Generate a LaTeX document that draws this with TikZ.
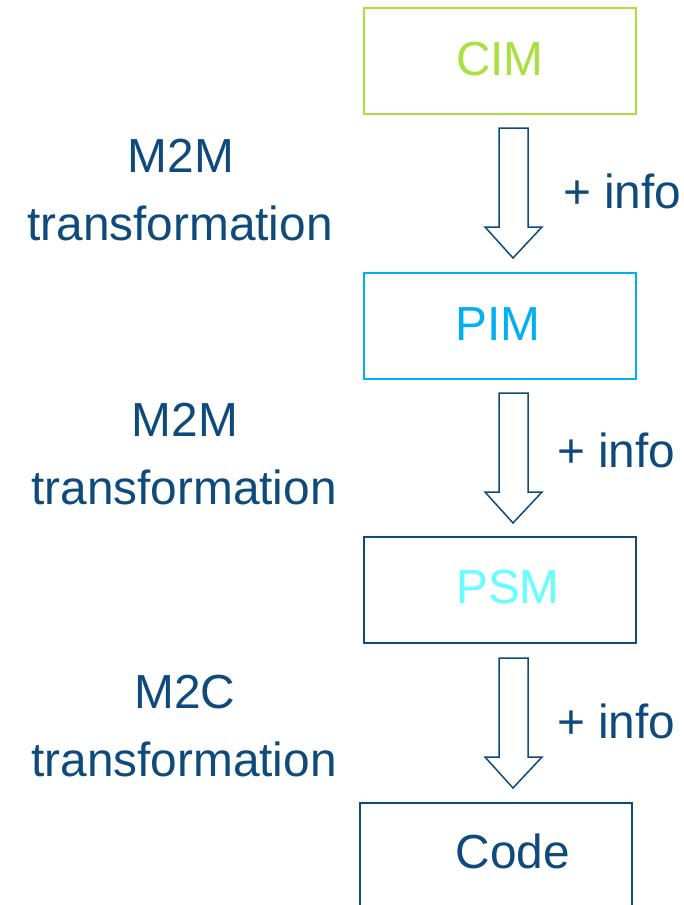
\documentclass[tikz,border=0pt]{standalone}
\usepackage{fontspec}
\setmainfont{Liberation Sans}
\definecolor{cimgreen}{HTML}{A8E03C}
\definecolor{pimblue}{HTML}{00B0F0}
\definecolor{darkblue}{HTML}{0E4A7B}
\definecolor{psmcyan}{HTML}{66FFFF}
\begin{document}
\begin{tikzpicture}[x=1pt,y=-1pt,
  box/.style={draw, line width=1.5pt, minimum width=272pt, minimum height=106pt, inner sep=0pt, fill=white},
  lbl/.style={anchor=base, inner sep=0pt, font=\fontsize{47.8}{56}\selectfont},
  blockarrow/.style={draw=darkblue, line width=1.5pt, line join=miter, fill=white}]
\useasboundingbox (0,0) rectangle (683,905);
\clip (0,0) rectangle (683,905);
% boxes
\node[box, draw=cimgreen] (cim) at (500,61) {};
\node[box, draw=pimblue] (pim) at (500,326) {};
\node[box, draw=darkblue] (psm) at (500,590) {};
\node[box, draw=darkblue, minimum height=120pt] (code) at (496,863) {};
% box texts
\node[lbl, text=cimgreen] (tcim) at (500,75) {CIM};
\node[lbl, text=pimblue] (tpim) at (498,340) {PIM};
\node[lbl, text=psmcyan] (tpsm) at (508,603) {PSM};
\node[lbl, text=darkblue] (tcode) at (513,868) {Code};
% block arrows
\foreach \ytop/\nm in {128/a1, 393/a2, 658/a3}{
  \draw[blockarrow] (499,\ytop) -- (499,\ytop+99) -- (485,\ytop+99) -- (513,\ytop+130)
     -- (542,\ytop+99) -- (528,\ytop+99) -- (528,\ytop) -- cycle;
}
% + info labels
\node[lbl, anchor=base west, text=darkblue] (i1) at (563,208) {+ info};
\node[lbl, anchor=base west, text=darkblue] (i2) at (557,467) {+ info};
\node[lbl, anchor=base west, text=darkblue] (i3) at (557,738) {+ info};
% left labels
\node[lbl, text=darkblue] (m1) at (181,172) {M2M};
\node[lbl, text=darkblue] (t1) at (180,240) {transformation};
\node[lbl, text=darkblue] (m2) at (185,436) {M2M};
\node[lbl, text=darkblue] (t2) at (184,504) {transformation};
\node[lbl, text=darkblue] (m3) at (185,708) {M2C};
\node[lbl, text=darkblue] (t3) at (184,776) {transformation};
\end{tikzpicture}
\end{document}
